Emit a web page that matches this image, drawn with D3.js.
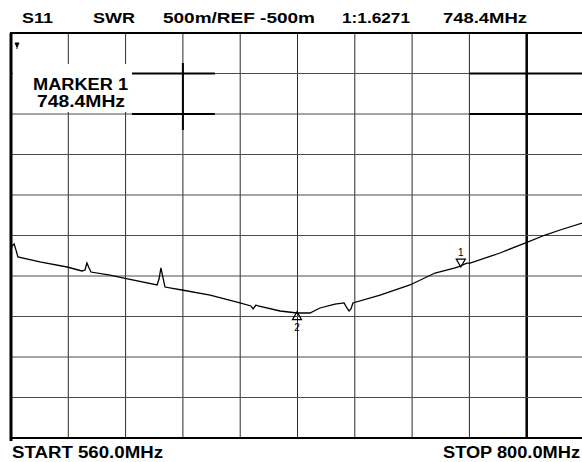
<!DOCTYPE html>
<html>
<head>
<meta charset="utf-8">
<script src="https://cdn.jsdelivr.net/npm/d3@7"></script>
<style>
  body { margin: 0; background: #fff; }
  svg text { font-family: "Liberation Sans", Arial, sans-serif; font-weight: bold; fill: #000; }
</style>
</head>
<body>
<div class="chart"></div>
<script>
// S11 SWR sweep, 560 - 800 MHz
const freqMHz = [560, 560.4, 561.3, 562.1, 562.9, 572.1, 583.5, 589.7, 591, 591.8, 592.7, 593.5,
  601.5, 607.3, 621.2, 622, 622.8, 623.7, 624.5, 631.6, 643.4, 655.9, 660.5, 661.4, 662.6, 663.5,
  672.7, 679.8, 685.2, 689.4, 695.7, 699.5, 700.7, 701.6, 702.4, 703.2, 714.6, 727.1, 737.6, 746,
  747.6, 748.4, 751, 752.3, 764.8, 775.3, 783.7, 790, 799.2, 800]
const swr = [1.82, 1.87, 1.895, 1.82, 1.735, 1.673, 1.611, 1.562, 1.574, 1.66, 1.599, 1.549,
  1.512, 1.475, 1.389, 1.463, 1.599, 1.475, 1.364, 1.327, 1.265, 1.167, 1.13, 1.093, 1.142, 1.13,
  1.068, 1.043, 1.043, 1.105, 1.154, 1.167, 1.105, 1.068, 1.093, 1.167, 1.265, 1.389, 1.537, 1.599,
  1.615, 1.627, 1.66, 1.66, 1.784, 1.907, 2.006, 2.068, 2.154, 2.16]

const markerFreq = [748.4, 679.8]
const markerSwr = [1.627, 1.043]
const markerNames = ['1', '2']

const headerLabels = ['S11', 'SWR', '500m/REF -500m', '1:1.6271', '748.4MHz']
const markerLabels = ['MARKER 1', '748.4MHz']
const footerLabels = ['START 560.0MHz', 'STOP 800.0MHz']

const startMHz = 560
const stopMHz = 800
const refValue = -0.5
const perDiv = 0.5
const divisions = 10

const width = 582
const height = 462

const svg = d3.select('.chart').append('svg')
  .attr('width', width)
  .attr('height', height)

const x = d3.scaleLinear().domain([startMHz, stopMHz]).range([11, 584])
const y = d3.scaleLinear().domain([refValue, refValue + perDiv * divisions]).range([438, 33])

const xGrid = d3.range(divisions + 1).map(i => startMHz + i * (stopMHz - startMHz) / divisions)
const yGrid = d3.range(divisions + 1).map(i => refValue + i * perDiv)

// grid
svg.append('g')
  .selectAll('line')
  .data(xGrid)
  .enter()
  .append('line')
  .attr('x1', d => x(d)).attr('x2', d => x(d))
  .attr('y1', y.range()[1]).attr('y2', y.range()[0])
  .attr('stroke', (d, i) => i === 9 ? '#000' : '#2a2a2a')
  .attr('stroke-width', (d, i) => i === 9 ? 2.5 : 1)

svg.append('g')
  .selectAll('line')
  .data(yGrid)
  .enter()
  .append('line')
  .attr('x1', x.range()[0]).attr('x2', x.range()[1])
  .attr('y1', d => y(d)).attr('y2', d => y(d))
  .attr('stroke', '#4a4a4a')
  .attr('stroke-width', 1)

// heavier pen strokes the plotter left behind
const heavy = svg.append('g').attr('stroke', '#000').attr('stroke-width', 2)
heavy.append('line').attr('x1', x(610.7)).attr('x2', x(645.4)).attr('y1', y(4)).attr('y2', y(4))
heavy.append('line').attr('x1', x(610.7)).attr('x2', x(645.4)).attr('y1', y(3.5)).attr('y2', y(3.5))
heavy.append('line').attr('x1', x(632)).attr('x2', x(632)).attr('y1', 63).attr('y2', 130)
heavy.append('line').attr('x1', x(752)).attr('x2', x(800)).attr('y1', y(4)).attr('y2', y(4))
heavy.append('line').attr('x1', x(752)).attr('x2', x(800)).attr('y1', y(3.5)).attr('y2', y(3.5))

// frame (right edge sits just outside the window)
svg.append('rect')
  .attr('x', x.range()[0]).attr('y', y.range()[1])
  .attr('width', x.range()[1] - x.range()[0])
  .attr('height', y.range()[0] - y.range()[1])
  .attr('fill', 'none')
  .attr('stroke', '#000')
  .attr('stroke-width', 2)
svg.append('line')
  .attr('x1', x.range()[0]).attr('x2', x.range()[0])
  .attr('y1', y.range()[1]).attr('y2', y.range()[0] + 3)
  .attr('stroke', '#000').attr('stroke-width', 3)

// marker readout box blanks the grid under it
svg.append('rect')
  .attr('x', 13).attr('y', 64).attr('width', 119).attr('height', 48)
  .attr('fill', '#fff')

svg.append('path')
  .attr('d', 'M15,43 L19,43 L17,47 Z M17,45 L17,49')
  .attr('stroke', '#000').attr('stroke-width', 1).attr('fill', '#000')

// trace
const line = d3.line()
  .x((d, i) => x(freqMHz[i]))
  .y(d => y(d))

svg.append('path')
  .datum(swr)
  .attr('d', line)
  .attr('fill', 'none')
  .attr('stroke', '#000')
  .attr('stroke-width', 1.3)

// markers
const tri = d3.symbol().type(d3.symbolTriangle).size(36)
markerFreq.forEach((f, i) => {
  const mx = x(f)
  const my = y(markerSwr[i])
  const down = i === 0
  svg.append('path')
    .attr('d', tri)
    .attr('transform', `translate(${mx},${down ? my - 4 : my + 4}) rotate(${down ? 180 : 0})`)
    .attr('fill', 'none')
    .attr('stroke', '#000')
    .attr('stroke-width', 1.2)
  svg.append('text')
    .attr('x', mx)
    .attr('y', down ? my - 10 : my + 18)
    .attr('text-anchor', 'middle')
    .style('font-weight', 'normal')
    .style('font-size', '10px')
    .text(markerNames[i])
})

// header text
const headerX = [22, 93, 163, 342, 443]
const headerW = [31, 42, 152, 68, 84]
svg.append('g')
  .selectAll('text')
  .data(headerLabels)
  .enter()
  .append('text')
  .attr('x', (d, i) => headerX[i])
  .attr('y', 23)
  .attr('textLength', (d, i) => headerW[i])
  .attr('lengthAdjust', 'spacingAndGlyphs')
  .style('font-size', '15.5px')
  .text(d => d)

const markerY = [90, 107]
const markerX = [33, 37]
const markerW = [95, 88]
svg.append('g')
  .selectAll('text')
  .data(markerLabels)
  .enter()
  .append('text')
  .attr('x', (d, i) => markerX[i])
  .attr('y', (d, i) => markerY[i])
  .attr('textLength', (d, i) => markerW[i])
  .attr('lengthAdjust', 'spacingAndGlyphs')
  .style('font-size', '16px')
  .text(d => d)

const footerX = [12, 443]
const footerW = [151, 137]
svg.append('g')
  .selectAll('text')
  .data(footerLabels)
  .enter()
  .append('text')
  .attr('x', (d, i) => footerX[i])
  .attr('y', 458)
  .attr('textLength', (d, i) => footerW[i])
  .attr('lengthAdjust', 'spacingAndGlyphs')
  .style('font-size', '16px')
  .text(d => d)
</script>
</body>
</html>
